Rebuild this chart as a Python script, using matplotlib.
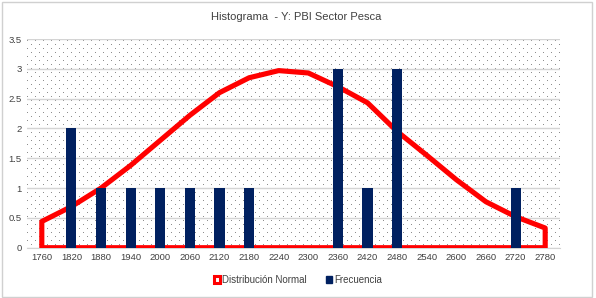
import numpy as np
import matplotlib
matplotlib.use("Agg")
import matplotlib.pyplot as plt
from matplotlib.patches import Rectangle, Patch

# ---- datos ----
clases = [1760, 1820, 1880, 1940, 2000, 2060, 2120, 2180, 2240,
          2300, 2360, 2420, 2480, 2540, 2600, 2660, 2720, 2780]
frecuencia = [0, 2, 1, 1, 1, 1, 1, 1, 0, 0, 3, 1, 3, 0, 0, 0, 1, 0]
dist_normal = [0.44, 0.69, 1.00, 1.38, 1.80, 2.22, 2.60, 2.85, 2.97,
               2.93, 2.70, 2.43, 1.95, 1.55, 1.14, 0.77, 0.52, 0.33]
y_ticks = [0, 0.5, 1, 1.5, 2, 2.5, 3, 3.5]

ROJO = "#ff0000"
AZUL = "#002060"

plt.rcParams["font.family"] = ["Liberation Sans", "DejaVu Sans"]

fig = plt.figure(figsize=(5.96, 2.98), dpi=100)
ax = fig.add_axes([27 / 596, 1 - 247.7 / 298, 533 / 596, 208.7 / 298])

# fondo punteado (patrón tipo Excel)
h, w = 209, 533
tex = np.ones((h, w, 3))
for r in range(1, h, 4):
    off = 0 if (r // 4) % 2 == 0 else 4
    tex[r, off::8] = 0.56
ax.imshow(tex, extent=(0, 1, 0, 1), transform=ax.transAxes,
          interpolation="nearest", aspect="auto", zorder=0)

x = np.arange(len(clases))
ax.fill_between(x, dist_normal, 0, facecolor="none", edgecolor=ROJO,
                linewidth=3.7, zorder=3, joinstyle="round")
ax.bar(x, frecuencia, width=0.34, color=AZUL, zorder=4)

ax.set_xlim(-0.5, len(clases) - 0.5)
ax.set_ylim(0, 3.5)
ax.set_yticks(y_ticks)
ax.set_yticklabels([f"{v:g}" for v in y_ticks])
ax.set_xticks(x)
ax.set_xticklabels([str(c) for c in clases])
ax.tick_params(length=0, labelsize=6.8, colors="#404040", pad=4)
ax.yaxis.grid(True, color="#d4d4d4", linewidth=1, zorder=1)
for s in ["top", "right", "left"]:
    ax.spines[s].set_visible(False)
ax.spines["bottom"].set_color("#d4d4d4")
ax.set_axisbelow(False)

fig.text(0.497, 1 - 17 / 298, "Histograma  - Y: PBI Sector Pesca",
         ha="center", va="center", fontsize=8, color="#404040")

handles = [Patch(facecolor="white", edgecolor=ROJO, linewidth=2.2),
           Patch(facecolor=AZUL, edgecolor=AZUL)]
fig.legend(handles, ["Distribución Normal", "Frecuencia"], loc="center",
           bbox_to_anchor=(0.5, 1 - 280 / 298), ncol=2, frameon=False,
           fontsize=7, handlelength=0.6, handleheight=0.6,
           handletextpad=0.25, columnspacing=2.0, labelcolor="#404040")

fig.add_artist(Rectangle((1.5 / 596, 1.5 / 298), 590 / 596, 295 / 298,
                         transform=fig.transFigure, fill=False,
                         edgecolor="#d0d0d0", linewidth=1))

fig.savefig("out.png", dpi=100)
